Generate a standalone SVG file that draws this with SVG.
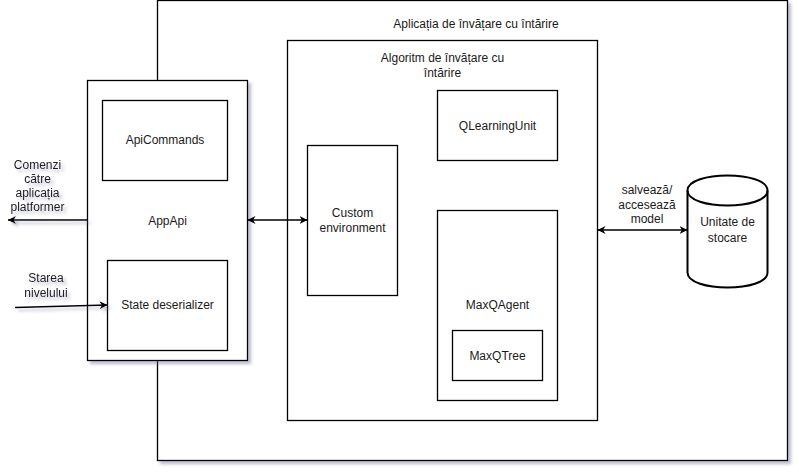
<svg xmlns="http://www.w3.org/2000/svg" width="799" height="472" viewBox="0 0 799 472">
<style>
  .box { fill: #ffffff; stroke: #000000; stroke-width: 1.3; }
  .lbl { font-family: "Liberation Sans", Arial, sans-serif; font-size: 12px; fill: #1a1a1a; text-anchor: middle; }
  .conn { fill: none; stroke: #000000; stroke-width: 1.3; }
</style>
<defs>
  <filter id="shadow" x="-10%" y="-10%" width="130%" height="130%">
    <feDropShadow dx="3" dy="3" stdDeviation="1.5" flood-color="#6f6f99" flood-opacity="0.45"/>
  </filter>
  <marker id="arrow" viewBox="0 0 10 10" refX="10" refY="5" markerWidth="8" markerHeight="8" markerUnits="userSpaceOnUse" orient="auto-start-reverse">
    <path d="M0,0 L10,5 L0,10 L3,5 Z" fill="#000000"/>
  </marker>
</defs>
<rect width="799" height="472" fill="#ffffff"/>

<g id="app-rl">
  <rect class="box" x="157.5" y="0.5" width="630" height="460" filter="url(#shadow)"/>
  <text class="lbl" x="476" y="28">Aplicația de învățare cu întărire</text>
</g>

<g id="app-api">
  <rect class="box" x="87.5" y="80.5" width="160" height="280" filter="url(#shadow)"/>
  <text class="lbl" x="167.5" y="225">AppApi</text>
</g>

<g id="api-commands">
  <rect class="box" x="102.5" y="100.5" width="125" height="80"/>
  <text class="lbl" x="165" y="144">ApiCommands</text>
</g>

<g id="state-deserializer">
  <rect class="box" x="107.5" y="260.5" width="120" height="90"/>
  <text class="lbl" x="167.5" y="309">State deserializer</text>
</g>

<g id="algoritm">
  <rect class="box" x="287.5" y="40.5" width="310" height="380"/>
  <text class="lbl" x="442.5" y="62">Algoritm de învățare cu</text>
  <text class="lbl" x="442.5" y="76.5">întărire</text>
</g>

<g id="custom-env">
  <rect class="box" x="307.5" y="145.5" width="90" height="150"/>
  <text class="lbl" x="352.5" y="216.5">Custom</text>
  <text class="lbl" x="352.5" y="231.5">environment</text>
</g>

<g id="qlearning-unit">
  <rect class="box" x="437.5" y="90.5" width="120" height="70"/>
  <text class="lbl" x="497.5" y="130">QLearningUnit</text>
</g>

<g id="maxq-agent">
  <rect class="box" x="437.5" y="210.5" width="120" height="190"/>
  <text class="lbl" x="497.5" y="309">MaxQAgent</text>
</g>

<g id="maxq-tree">
  <rect class="box" x="452.5" y="330.5" width="90" height="50"/>
  <text class="lbl" x="497.5" y="360">MaxQTree</text>
</g>

<g id="storage">
  <path d="M687.5,190.5 C687.5,170.5 767.5,170.5 767.5,190.5 L767.5,272.5 C767.5,292.5 687.5,292.5 687.5,272.5 Z" fill="#ffffff" stroke="#000000" stroke-width="2"/>
  <path d="M687.5,190.5 C687.5,210.5 767.5,210.5 767.5,190.5" fill="none" stroke="#000000" stroke-width="2"/>
  <text class="lbl" x="727.5" y="226">Unitate de</text>
  <text class="lbl" x="727.5" y="241.5">stocare</text>
</g>

<g id="connectors">
  <g filter="url(#shadow)">
    <line class="conn" x1="87.5" y1="220" x2="8" y2="220" marker-end="url(#arrow)"/>
    <line class="conn" x1="15" y1="307.5" x2="107.5" y2="305" marker-end="url(#arrow)"/>
    <text class="lbl" x="37.5" y="169">Comenzi</text>
    <text class="lbl" x="37.5" y="183">către</text>
    <text class="lbl" x="37.5" y="197">aplicația</text>
    <text class="lbl" x="37.5" y="211">platformer</text>
    <text class="lbl" x="46" y="282">Starea</text>
    <text class="lbl" x="46" y="297">nivelului</text>
  </g>
  <line class="conn" x1="247.5" y1="220" x2="307.5" y2="220" marker-start="url(#arrow)" marker-end="url(#arrow)"/>
  <line class="conn" x1="597.5" y1="230" x2="687.5" y2="230" marker-start="url(#arrow)" marker-end="url(#arrow)"/>
  <text class="lbl" x="647" y="194">salvează/</text>
  <text class="lbl" x="647" y="208.5">accesează</text>
  <text class="lbl" x="647" y="223">model</text>
</g>
</svg>
